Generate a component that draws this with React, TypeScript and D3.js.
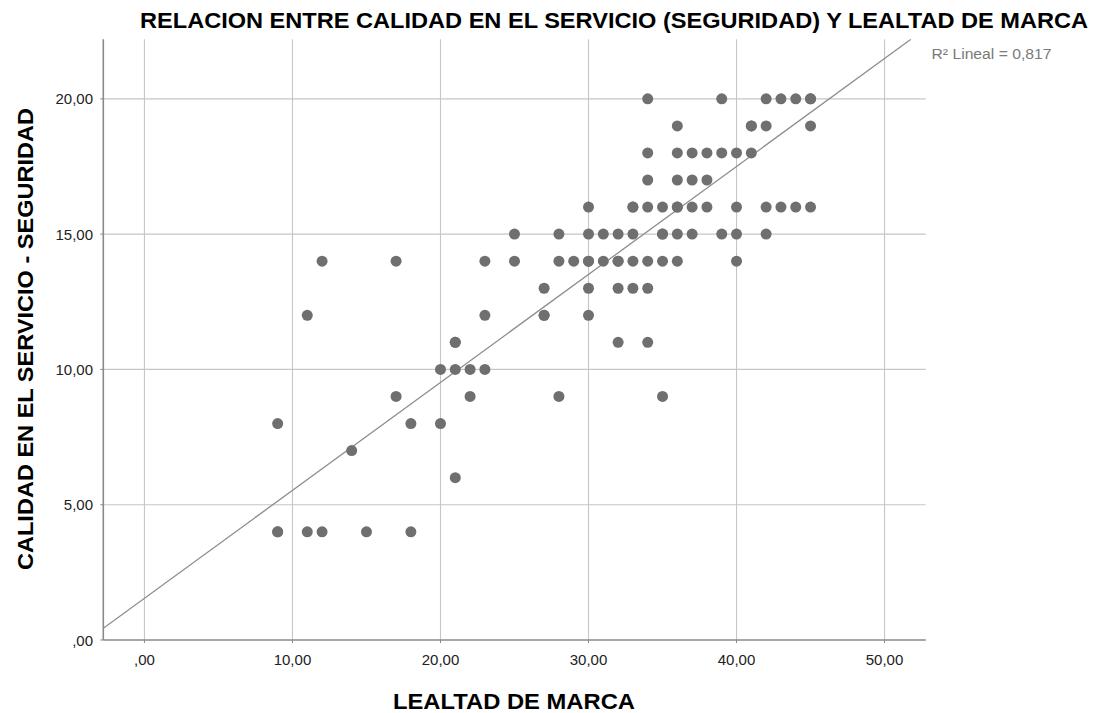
import React from "react";
import * as d3 from "d3";

// LEALTAD DE MARCA (x) and CALIDAD EN EL SERVICIO - SEGURIDAD (y)
const lealtad: number[] = [
  34, 39, 42, 43, 44, 45, 45,
  36, 41, 41, 42, 45,
  34, 36, 37, 38, 39, 40, 41,
  34, 36, 37, 38,
  30, 33, 33, 34, 35, 36, 36, 37, 38, 40, 42, 43, 44, 45,
  25, 28, 30, 31, 32, 33, 35, 35, 36, 37, 39, 40, 42,
  12, 17, 23, 25, 28, 29, 30, 30, 31, 32, 32, 33, 34, 35, 36, 40,
  27, 30, 32, 33, 34,
  11, 23, 27, 27, 30,
  21, 21, 32, 34,
  20, 21, 22, 23,
  17, 22, 28, 35,
  9, 18, 20,
  14,
  21,
  9, 9, 11, 12, 15, 18,
];
const seguridad: number[] = [
  20, 20, 20, 20, 20, 20, 20,
  19, 19, 19, 19, 19,
  18, 18, 18, 18, 18, 18, 18,
  17, 17, 17, 17,
  16, 16, 16, 16, 16, 16, 16, 16, 16, 16, 16, 16, 16, 16,
  15, 15, 15, 15, 15, 15, 15, 15, 15, 15, 15, 15, 15,
  14, 14, 14, 14, 14, 14, 14, 14, 14, 14, 14, 14, 14, 14, 14, 14,
  13, 13, 13, 13, 13,
  12, 12, 12, 12, 12,
  11, 11, 11, 11,
  10, 10, 10, 10,
  9, 9, 9, 9,
  8, 8, 8,
  7,
  6,
  4, 4, 4, 4, 4, 4,
];

const xTicks: number[] = [0, 10, 20, 30, 40, 50];
const yTicks: number[] = [0, 5, 10, 15, 20];

// Fit line (R² Lineal = 0,817)
const fitIntercept = 1.54;
const fitSlope = 0.399;
const r2Label = "R² Lineal = 0,817";

const title = "RELACION ENTRE CALIDAD EN EL SERVICIO (SEGURIDAD) Y LEALTAD DE MARCA";
const xTitle = "LEALTAD DE MARCA";
const yTitle = "CALIDAD EN EL SERVICIO - SEGURIDAD";

const W = 1097;
const H = 713;
const left = 103.3;
const right = 925.7;
const top = 39.3;
const bottom = 640;

const fmtBase = d3.formatLocale({ decimal: ",", thousands: ".", grouping: [3], currency: ["", ""] }).format(".2f");
const fmt = (v: number) => fmtBase(v).replace(/^0,/, ",");

export default function App() {
  const xDom: [number, number] = [-2.78, 52.78];
  const yDom: [number, number] = [0, 22.2];
  const x = d3.scaleLinear().domain(xDom).range([left, right]);
  const y = d3.scaleLinear().domain(yDom).range([bottom, top]);

  const xEnd = Math.min(xDom[1], (yDom[1] - fitIntercept) / fitSlope);
  const fitPts: [number, number][] = [
    [xDom[0], fitIntercept + fitSlope * xDom[0]],
    [xEnd, fitIntercept + fitSlope * xEnd],
  ];
  const lineGen = d3
    .line<[number, number]>()
    .x((d) => x(d[0]))
    .y((d) => y(d[1]));

  const font = "'Liberation Sans', Arial, Helvetica, sans-serif";
  const pts = lealtad.map((v, i) => [v, seguridad[i]] as [number, number]);

  return (
    <svg
      width={W}
      height={H}
      viewBox={`0 0 ${W} ${H}`}
      style={{ position: "absolute", left: 0, top: 0, background: "#fff" }}
      fontFamily={font}
    >
      <rect x={0} y={0} width={W} height={H} fill="#fff" />
      {/* gridlines */}
      {xTicks.map((t) => (
        <line key={"gx" + t} x1={x(t)} x2={x(t)} y1={top} y2={bottom} stroke="#c6c6c6" strokeWidth={1.1} />
      ))}
      {yTicks
        .filter((t) => t > 0)
        .map((t) => (
          <line key={"gy" + t} x1={left} x2={right} y1={y(t)} y2={y(t)} stroke="#c6c6c6" strokeWidth={1.1} />
        ))}
      {/* axes */}
      <line x1={left} x2={left} y1={top} y2={bottom} stroke="#8a8a8a" strokeWidth={1.6} />
      <line x1={left} x2={right} y1={bottom} y2={bottom} stroke="#8a8a8a" strokeWidth={1.6} />
      {yTicks.map((t) => (
        <line key={"ty" + t} x1={left - 3} x2={left} y1={y(t)} y2={y(t)} stroke="#8a8a8a" strokeWidth={1} />
      ))}
      {xTicks.map((t) => (
        <line key={"tx" + t} x1={x(t)} x2={x(t)} y1={bottom} y2={bottom + 3} stroke="#8a8a8a" strokeWidth={1} />
      ))}
      {/* tick labels */}
      {yTicks.map((t) => (
        <text key={"ly" + t} x={93} y={y(t) + 5.5} textAnchor="end" fontSize={15} fill="#222">
          {fmt(t)}
        </text>
      ))}
      {xTicks.map((t) => (
        <text key={"lx" + t} x={x(t)} y={665} textAnchor="middle" fontSize={15} fill="#222">
          {fmt(t)}
        </text>
      ))}
      {/* fit line */}
      <defs>
        <clipPath id="plotClip">
          <rect x={left} y={top} width={right - left} height={bottom - top} />
        </clipPath>
      </defs>
      <path d={lineGen(fitPts) || ""} stroke="#8c8c8c" strokeWidth={1.3} fill="none" clipPath="url(#plotClip)" />
      {/* points */}
      {pts.map((p, i) => (
        <circle key={i} cx={x(p[0])} cy={y(p[1])} r={5.5} fill="#6f6f6f" />
      ))}
      {/* R2 label */}
      <text x={931.5} y={59} fontSize={14} fill="#7a7a7a" textLength={120} lengthAdjust="spacingAndGlyphs">
        {r2Label}
      </text>
      {/* titles */}
      <text x={614} y={28} textAnchor="middle" fontSize={22} fontWeight="bold" fill="#000" textLength={948} lengthAdjust="spacingAndGlyphs">
        {title}
      </text>
      <text x={514} y={709} textAnchor="middle" fontSize={22} fontWeight="bold" fill="#000" textLength={242} lengthAdjust="spacingAndGlyphs">
        {xTitle}
      </text>
      <text
        transform={`translate(33,339) rotate(-90)`}
        textAnchor="middle"
        fontSize={22}
        fontWeight="bold"
        fill="#000"
        textLength={462}
        lengthAdjust="spacingAndGlyphs"
      >
        {yTitle}
      </text>
    </svg>
  );
}
